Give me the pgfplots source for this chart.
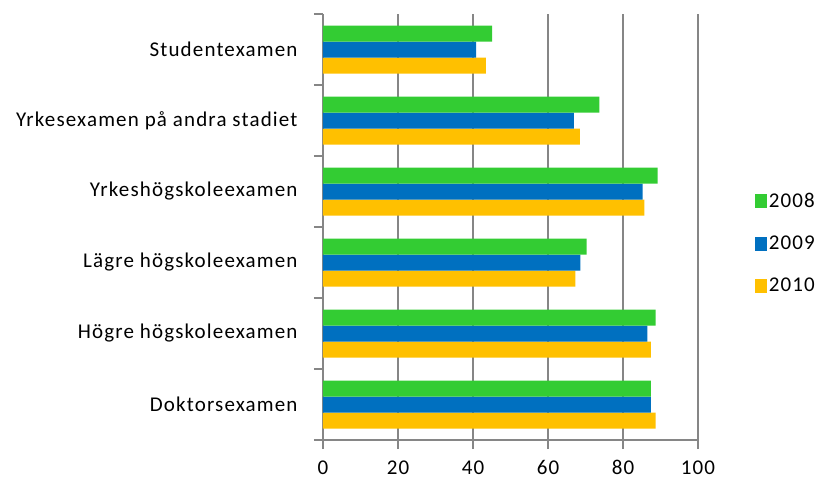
\documentclass[border=0pt]{standalone}
\usepackage{fontspec}
\setmainfont[LetterSpace=5.5]{Carlito}
\usepackage{pgfplots}
\pgfplotsset{compat=1.18}
\definecolor{g08}{RGB}{51,204,51}
\definecolor{b09}{RGB}{0,112,192}
\definecolor{o10}{RGB}{255,192,0}
\definecolor{axgray}{RGB}{134,134,134}
\begin{document}
\begin{tikzpicture}
\path[use as bounding box] (-323pt,-42pt) rectangle (503pt,440pt);
\begin{axis}[
    scale only axis, width=375pt, height=426pt,
    xbar=0pt, bar width=16pt,
    xmin=0, xmax=100, ymin=-0.5, ymax=5.5,
    enlargelimits=false,
    axis x line*=bottom, axis y line*=left,
    axis line style={axgray, line width=2.8pt},
    tick style={axgray, line width=2.8pt},
    tick align=outside, major tick length=9pt,
    xmajorgrids, grid style={axgray, line width=2.8pt},
    xtick={0,20,...,100},
    ytick={-0.5,0.5,1.5,2.5,3.5,4.5,5.5}, yticklabels={},
    extra y ticks={0,1,2,3,4,5},
    extra y tick labels={Doktorsexamen,Högre högskoleexamen,Lägre högskoleexamen,Yrkeshögskoleexamen,Yrkesexamen på andra stadiet,Studentexamen},
    extra y tick style={major tick length=0pt, tick style={draw=none}},
    yticklabel style={xshift=-22pt},
    xticklabel style={yshift=-8pt},
    ticklabel style={font=\fontsize{21}{25}\selectfont, text=black},
    /pgf/number format/assume math mode=true,
    reverse legend,
    legend cell align=left,
    legend style={at={(1.143,0.462)}, anchor=west, draw=none, fill=none,
        font=\fontsize{21}{25}\selectfont, row sep=23pt,
        nodes={inner sep=2pt}},
]
\addplot[fill=o10, draw=none, legend image code/.code={\fill[o10] (0pt,-7pt) rectangle (12pt,7pt);}]
  coordinates {(88.7,0) (87.4,1) (67.3,2) (85.7,3) (68.5,4) (43.4,5)};
\addplot[fill=b09, draw=none, legend image code/.code={\fill[b09] (0pt,-7pt) rectangle (12pt,7pt);}]
  coordinates {(87.4,0) (86.5,1) (68.6,2) (85.2,3) (66.9,4) (40.8,5)};
\addplot[fill=g08, draw=none, legend image code/.code={\fill[g08] (0pt,-7pt) rectangle (12pt,7pt);}]
  coordinates {(87.4,0) (88.7,1) (70.3,2) (89.2,3) (73.7,4) (45.1,5)};
\legend{2010,2009,2008}
\end{axis}
\end{tikzpicture}
\end{document}
